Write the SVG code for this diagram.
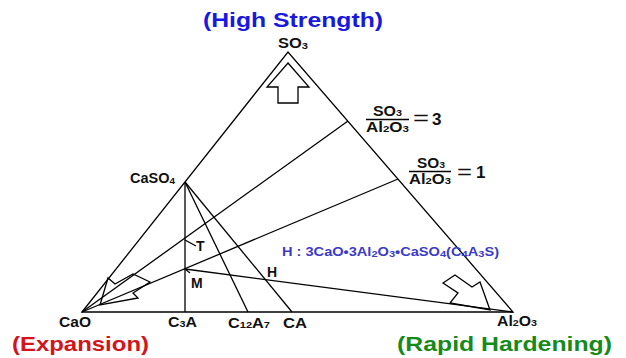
<svg xmlns="http://www.w3.org/2000/svg" width="626" height="358" viewBox="0 0 626 358">
<style>
.ln{stroke:#000;stroke-width:1.3;fill:none;stroke-linejoin:miter}
.lb{font-family:"Liberation Sans",Arial,sans-serif;font-weight:bold;font-size:14px;fill:#111}
.sub{font-size:9.5px}
.ttl{font-family:"Liberation Sans",Arial,sans-serif;font-weight:bold;font-size:21px}
.eq{font-family:"Liberation Sans",Arial,sans-serif;font-size:20px;fill:#111}
.big{font-family:"Liberation Sans",Arial,sans-serif;font-weight:bold;font-size:17px;fill:#111}
.form{font-family:"Liberation Sans",Arial,sans-serif;font-weight:bold;font-size:12.5px;fill:#3b3bc8}
</style>
<rect width="626" height="358" fill="#fff"/>
<g id="connectors">
<polygon class="ln" points="82,312 288,52 513,312"/>
<line class="ln" x1="185" y1="182" x2="185" y2="312"/>
<line class="ln" x1="185" y1="182" x2="248" y2="312"/>
<line class="ln" x1="185" y1="182" x2="292" y2="312"/>
<line class="ln" x1="82" y1="312" x2="348" y2="121"/>
<line class="ln" x1="82" y1="312" x2="398" y2="179"/>
<line class="ln" x1="185" y1="269" x2="513" y2="312"/>
<line class="ln" x1="185" y1="240" x2="196" y2="246"/>
<line class="ln" x1="185" y1="269" x2="190" y2="273"/>
</g>
<g id="arrow-up"><polygon class="ln" points="288,63 309,87 298,87 298,103 278,103 278,87 267,87"/></g>
<g id="arrow-left"><polygon class="ln" points="100,305 108,278 115,284 133,274 150,282 133,293 138,298"/></g>
<g id="arrow-right"><polygon class="ln" points="443,283 455,275 472,287 480,282 490,310 450,303 458,293"/></g>
<g id="title-high"><text class="ttl" x="203" y="27" fill="#1818e0" textLength="180" lengthAdjust="spacingAndGlyphs">(High Strength)</text></g>
<g id="title-expansion"><text class="ttl" x="12" y="351" fill="#d4141c" textLength="137" lengthAdjust="spacingAndGlyphs">(Expansion)</text></g>
<g id="title-rapid"><text class="ttl" x="397" y="351" fill="#168a1a" textLength="215" lengthAdjust="spacingAndGlyphs">(Rapid Hardening)</text></g>
<g id="node-SO3"><text class="lb" x="278" y="48" textLength="30" lengthAdjust="spacingAndGlyphs">SO<tspan class="sub" dy="1">3</tspan></text></g>
<g id="node-CaSO4"><text class="lb" x="130" y="183" textLength="45" lengthAdjust="spacingAndGlyphs">CaSO<tspan class="sub" dy="1">4</tspan></text></g>
<g id="node-T"><text class="lb" x="196" y="251">T</text></g>
<g id="node-M"><text class="lb" x="191" y="288">M</text></g>
<g id="node-H"><text class="lb" x="267" y="277">H</text></g>
<g id="node-CaO"><text class="lb" x="59" y="327" textLength="32" lengthAdjust="spacingAndGlyphs">CaO</text></g>
<g id="node-C3A"><text class="lb" x="168" y="327" textLength="29" lengthAdjust="spacingAndGlyphs">C<tspan class="sub">3</tspan>A</text></g>
<g id="node-C12A7"><text class="lb" x="228" y="328" textLength="42" lengthAdjust="spacingAndGlyphs">C<tspan class="sub">12</tspan>A<tspan class="sub">7</tspan></text></g>
<g id="node-CA"><text class="lb" x="283" y="328" textLength="24" lengthAdjust="spacingAndGlyphs">CA</text></g>
<g id="node-Al2O3"><text class="lb" x="497" y="326" textLength="40" lengthAdjust="spacingAndGlyphs">Al<tspan class="sub">2</tspan>O<tspan class="sub">3</tspan></text></g>
<g id="ratio-3">
<text class="lb" x="373" y="116" textLength="29" lengthAdjust="spacingAndGlyphs">SO<tspan class="sub">3</tspan></text>
<line class="ln" x1="366" y1="119.5" x2="409" y2="119.5" stroke-width="1.2"/>
<text class="lb" x="366" y="132" textLength="43" lengthAdjust="spacingAndGlyphs">Al<tspan class="sub">2</tspan>O<tspan class="sub">3</tspan></text>
<text class="eq" x="413" y="125" textLength="16" lengthAdjust="spacingAndGlyphs">=</text>
<text class="big" x="432" y="125">3</text>
</g>
<g id="ratio-1">
<text class="lb" x="417" y="168" textLength="28" lengthAdjust="spacingAndGlyphs">SO<tspan class="sub">3</tspan></text>
<line class="ln" x1="409" y1="171.5" x2="451" y2="171.5" stroke-width="1.2"/>
<text class="lb" x="409" y="184" textLength="42" lengthAdjust="spacingAndGlyphs">Al<tspan class="sub">2</tspan>O<tspan class="sub">3</tspan></text>
<text class="eq" x="457" y="179" textLength="15" lengthAdjust="spacingAndGlyphs">=</text>
<text class="big" x="476" y="178">1</text>
</g>
<g id="formula-H"><text class="form" x="282" y="256" textLength="217" lengthAdjust="spacingAndGlyphs">H : 3CaO•3Al<tspan class="sub" dy="1">2</tspan><tspan dy="-1">O</tspan><tspan class="sub" dy="1">3</tspan><tspan dy="-1">•CaSO</tspan><tspan class="sub" dy="1">4</tspan><tspan dy="-1">(C</tspan><tspan class="sub" dy="1">4</tspan><tspan dy="-1">A</tspan><tspan class="sub" dy="1">3</tspan><tspan dy="-1">S)</tspan></text></g>
</svg>
